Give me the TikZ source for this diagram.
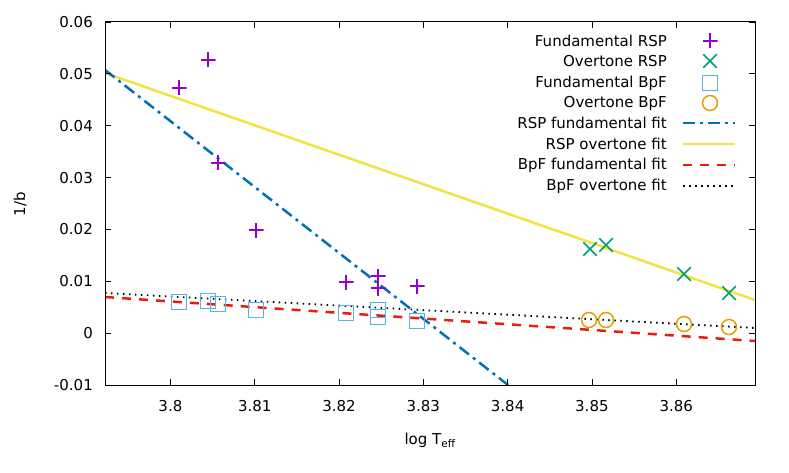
\documentclass[tikz,border=0pt]{standalone}
\usepackage{fontspec}
\setmainfont{DejaVu Sans}
\usetikzlibrary{shapes.misc}
\definecolor{cpurple}{HTML}{9400D3}
\definecolor{cgreen}{HTML}{009E73}
\definecolor{clblue}{HTML}{56B4E9}
\definecolor{corange}{HTML}{E69F00}
\definecolor{cblue}{HTML}{0072B2}
\definecolor{cyellow}{HTML}{F0E442}
\definecolor{cred}{HTML}{E51E10}
\tikzset{
  lbl/.style={font=\fontsize{15}{16}\selectfont, inner sep=0pt},
  plusm/.style={minimum size=15pt, inner sep=0pt, path picture={\draw[cpurple, line width=1.5pt] (path picture bounding box.north) -- (path picture bounding box.south) (path picture bounding box.west) -- (path picture bounding box.east);}},
  crossm/.style={cross out, draw=cgreen, line width=1.5pt, minimum size=12pt, inner sep=0pt},
  sqm/.style={draw=clblue, line width=1.5pt, minimum size=15pt, inner sep=0pt},
  circm/.style={circle, draw=corange, line width=1.5pt, minimum size=15pt, inner sep=0pt},
  fitA/.style={cblue, line width=2.5pt, dash pattern=on 12pt off 5pt on 3pt off 5pt},
  fitB/.style={cyellow, line width=2.5pt},
  fitC/.style={cred, line width=2.5pt, dash pattern=on 9pt off 8pt},
  fitD/.style={black, line width=1.8pt, dash pattern=on 1.5pt off 4.5pt},
  tick/.style={line width=0.8pt}
}
\begin{document}
\begin{tikzpicture}[x=1pt,y=-1pt]
\useasboundingbox (0,0) rectangle (789,473);
% fits
\begin{scope}
\clip (105,22) rectangle (755,385);
\coordinate (a1) at (105,70); \coordinate (a2) at (508,385);
\coordinate (b1) at (105,73); \coordinate (b2) at (755,300);
\coordinate (c1) at (105,297); \coordinate (c2) at (755,341);
\coordinate (d1) at (105,293); \coordinate (d2) at (755,328);
\draw[fitD] (d1) -- (d2);
\draw[fitC] (c1) -- (c2);
\draw[fitB] (b1) -- (b2);
\draw[fitA] (a1) -- (a2);
\end{scope}
% ticks
\foreach \i/\t in {0/0.06,1/0.05,2/0.04,3/0.03,4/0.02,5/0.01,6/0,7/-0.01}{
  \pgfmathsetmacro{\yy}{22+\i*51.857}
  \draw[tick] (105,\yy) -- (111,\yy) (755,\yy) -- (749,\yy);
  \node[lbl, anchor=east] (yl\i) at (93,\yy) {\t};
}
\foreach \i/\t in {0/3.8,1/3.81,2/3.82,3/3.83,4/3.84,5/3.85,6/3.86}{
  \pgfmathsetmacro{\xx}{170.4+\i*84.3}
  \draw[tick] (\xx,385) -- (\xx,379) (\xx,22) -- (\xx,28);
  \node[lbl] (xl\i) at (\xx,406) {\t};
}
\draw[line width=1pt] (105,22) rectangle (755,385);
\node[lbl, rotate=90] (ylab) at (20,204) {1/b};
\node[lbl] (xlab) at (430,440) {log T\textsubscript{eff}};
% data
\foreach \x/\y in {179/302,208/301,218/304,256/310,346/313,378/310,378/317,417/321}{\node[sqm] at (\x,\y) {};}
\foreach \x/\y in {589/320,606/320,684/324,729/327}{\node[circm] at (\x,\y) {};}
\foreach \x/\y in {179/88,208/60,218/163,256/230,346/282,378/276,378/288,417/286}{\node[plusm] at (\x,\y) {};}
\foreach \x/\y in {590/249,606/245,684/274,729/293}{\node[crossm] at (\x,\y) {};}
% legend
\node[lbl, anchor=east] (l1) at (667,41) {Fundamental RSP};
\node[lbl, anchor=east] (l2) at (667,61) {Overtone RSP};
\node[lbl, anchor=east] (l3) at (667,83) {Fundamental BpF};
\node[lbl, anchor=east] (l4) at (667,103) {Overtone BpF};
\node[lbl, anchor=east] (l5) at (667,123) {RSP fundamental fit};
\node[lbl, anchor=east] (l6) at (667,144) {RSP overtone fit};
\node[lbl, anchor=east] (l7) at (667,165) {BpF fundamental fit};
\node[lbl, anchor=east] (l8) at (667,186) {BpF overtone fit};
\node[plusm] (m1) at (710,41) {};
\node[crossm] (m2) at (710,61) {};
\node[sqm] (m3) at (710,83) {};
\node[circm] (m4) at (710,103) {};
\coordinate (s5a) at (683,123); \coordinate (s5b) at (735,123);
\coordinate (s6a) at (683,144); \coordinate (s6b) at (735,144);
\coordinate (s7a) at (683,165); \coordinate (s7b) at (735,165);
\coordinate (s8a) at (683,186); \coordinate (s8b) at (735,186);
\draw[fitA] (s5a) -- (s5b);
\draw[fitB] (s6a) -- (s6b);
\draw[fitC] (s7a) -- (s7b);
\draw[fitD] (s8a) -- (s8b);
\end{tikzpicture}
\end{document}
